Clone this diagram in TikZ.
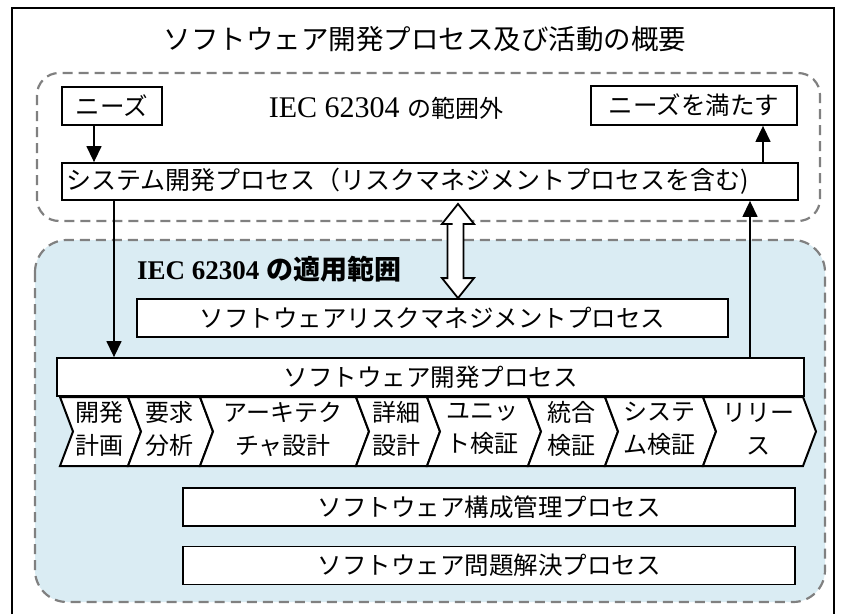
\documentclass[tikz,border=0pt]{standalone}
\usepackage{fontspec}
\setmainfont{Liberation Serif}
\newfontfamily\cjk{Noto Sans CJK JP}
\usetikzlibrary{arrows.meta,calc}
\definecolor{dashgray}{RGB}{128,128,128}
\definecolor{scopeblue}{RGB}{218,236,243}
\begin{document}
\begin{tikzpicture}[x=1pt,y=-1pt,
  box/.style={draw=black,line width=1.8pt,fill=white,inner sep=0pt,font=\cjk\fontsize{24.5}{28}\selectfont},
  boxtext/.style={inner sep=0pt,font=\cjk\fontsize{25}{28}\selectfont},
  arr/.style={line width=1.4pt,-{Triangle[length=16pt,width=15pt]}},
  scopeline/.style={draw=dashgray,line width=2.2pt,dash pattern=on 10pt off 6pt},
  chev/.style={draw=black,line width=2pt,fill=white,line join=miter},
  chevtext/.style={inner sep=0pt,align=center,font=\cjk\fontsize{24}{33}\selectfont},
  hollow/.style={draw=black,line width=1.8pt,fill=white,line join=miter}
 ]
\useasboundingbox[fill=white] (0,0) rectangle (841,614);
% outer frame
\draw[line width=2pt] (12,614) -- (12,8) -- (834,8) -- (834,614);
% title
\node[inner sep=0pt,font=\cjk\fontsize{27.5}{30}\selectfont] (title) at (425,39) {ソフトウェア開発プロセス及び活動の概要};
% scopes
\draw[scopeline,rounded corners=22pt] (37,73) rectangle (820,221);
\draw[scopeline,fill=scopeblue,rounded corners=32pt] (35,240) rectangle (825,602);
% labels
\node[inner sep=0pt] (outlabel) at (386,108) {\fontsize{30}{30}\selectfont IEC 62304 {\cjk\fontsize{24}{28}\selectfont の範囲外}};
\node[inner sep=0pt,anchor=west] (inlabel) at (137,269) {\bfseries\fontsize{27}{30}\selectfont IEC 62304 {\cjk\bfseries\fontsize{27}{30}\selectfont の適用範囲}};
% boxes
\node[box,minimum width=100pt,minimum height=38pt] (needs) at (112,106) {ニーズ};
\node[box,minimum width=206pt,minimum height=39pt] (satisfy) at (694,105.5) {ニーズを満たす};
\node[box,minimum width=736pt,minimum height=37pt] (sys) at (430,181.5) {};
\node[boxtext,anchor=west] (syst) at (66,181.5) {システム開発プロセス（リスクマネジメントプロセスを含む)};
\node[box,minimum width=591pt,minimum height=38pt] (risk) at (432.5,318) {ソフトウェアリスクマネジメントプロセス};
\node[box,minimum width=747pt,minimum height=38pt] (swdev) at (430.5,377) {ソフトウェア開発プロセス};
\node[box,minimum width=612pt,minimum height=38pt] (config) at (489,507) {ソフトウェア構成管理プロセス};
\node[box,minimum width=612pt,minimum height=38pt] (problem) at (489,565.5) {ソフトウェア問題解決プロセス};
% chevrons
\foreach \a/\b/\t [count=\i] in {60/128/{開発\\計画},128/200/{要求\\分析},200/356/{アーキテク\\チャ設計},356/427/{詳細\\設計},427/528/{ユニッ\\ト検証},528/605/{統合\\検証},605/703/{システ\\ム検証},703/803/{リリー\\ス}}{
  \draw[chev] (\a,397) -- (\b,397) -- (\b+13,431.5) -- (\b,466) -- (\a,466) -- (\a+13,431.5) -- cycle;
  \node[chevtext] (ch\i) at ({(\a+\b)/2+5},429) {\t};
}
% connector anchor x positions
\coordinate (xa) at (94,0);
\coordinate (xb) at (763,0);
\coordinate (xc) at (114,0);
\coordinate (xd) at (750,0);
\coordinate (xe) at (458,0);
\draw[arr] (xa |- needs.south) -- (xa |- sys.north);
\draw[arr] (xb |- sys.north) -- (xb |- satisfy.south);
\draw[arr] (xc |- sys.south) -- (xc |- swdev.north);
\draw[arr] (xd |- swdev.north) -- (xd |- sys.south);
% double hollow arrow
\coordinate (dt) at ($(xe |- sys.south)+(0,3)$);
\coordinate (db) at (xe |- risk.north);
\draw[hollow] (dt) -- ++(16,20) -- ++(-10.5,0) |- ($(db)+(10.5,-20)$) -- ++(5.5,0) -- (db) -- ++(-16,-20) -- ++(5.5,0) |- ($(dt)+(-5.5,20)$) -- ++(-10.5,0) -- cycle;
\end{tikzpicture}
\end{document}
